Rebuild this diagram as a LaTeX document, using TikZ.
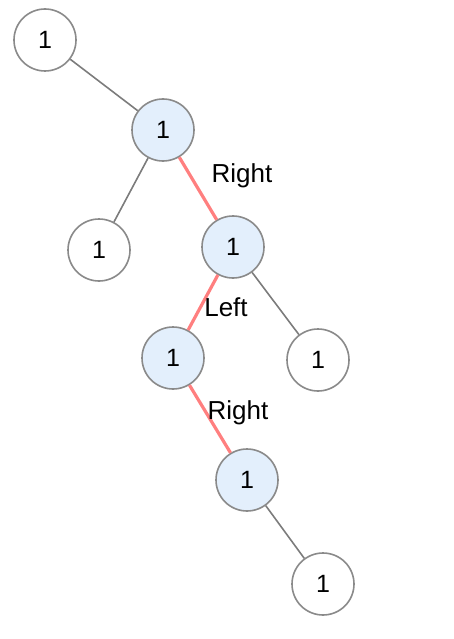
\documentclass[tikz,border=0pt]{standalone}
\usepackage{fontspec}
\setmainfont{Liberation Sans}
\definecolor{pathfill}{HTML}{E3EFFC}
\definecolor{pathline}{HTML}{FF7F7F}
\definecolor{ringgray}{HTML}{8A8A8A}
\begin{document}
\begin{tikzpicture}[x=1pt,y=-1pt,
  leaf/.style={circle,draw=ringgray,line width=1.6pt,fill=white,minimum size=62pt,inner sep=0pt,font=\fontsize{25}{29}\selectfont},
  onpath/.style={leaf,fill=pathfill},
  edge/.style={draw=ringgray!90!black,line width=1.6pt},
  hot/.style={draw=pathline,line width=3.2pt},
  tag/.style={font=\fontsize{26}{30}\selectfont,inner sep=0pt}]
\useasboundingbox (0,0) rectangle (454,639);
\node[leaf] (a) at (45,40) {1};
\node[onpath] (b) at (163,130) {1};
\node[leaf] (c) at (99,250) {1};
\node[onpath] (d) at (233,247) {1};
\node[onpath] (e) at (173,358) {1};
\node[leaf] (f) at (318,360) {1};
\node[onpath] (g) at (247,480) {1};
\node[leaf] (h) at (323,584) {1};
\draw[edge] (a) -- (b);
\draw[edge] (b) -- (c);
\draw[hot] (b) -- (d);
\draw[hot] (d) -- (e);
\draw[edge] (d) -- (f);
\draw[hot] (e) -- (g);
\draw[edge] (g) -- (h);
\node[tag] (r1) at (242,176) {Right};
\node[tag] (l1) at (226,307) {Left};
\node[tag] (r2) at (238,413) {Right};
\end{tikzpicture}
\end{document}
